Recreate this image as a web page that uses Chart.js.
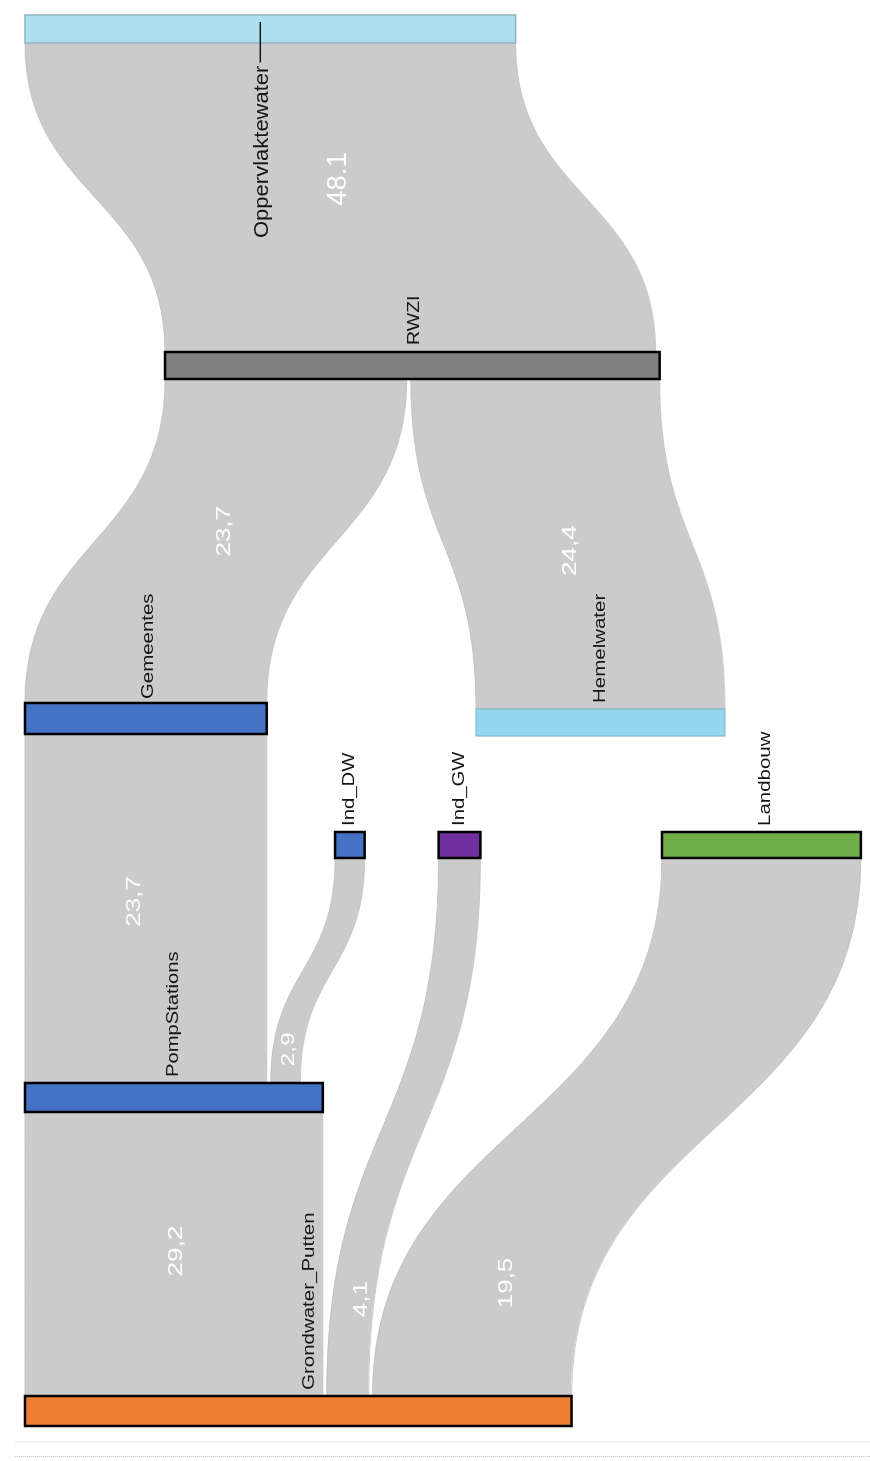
<!DOCTYPE html>
<html>
<head>
<meta charset="utf-8">
<title>Waterstromen sankey</title>
<script src="https://cdn.jsdelivr.net/npm/chart.js@4.4.1/dist/chart.umd.min.js"></script>
<style>
  html, body { margin: 0; padding: 0; background: #ffffff; }
  #wrap { position: relative; width: 870px; height: 1461px; }
</style>
</head>
<body>
<div id="wrap"><canvas id="myChart"></canvas></div>
<script>
// --- data ---
const nodeNames = ['Oppervlaktewater', 'RWZI', 'Gemeentes', 'Hemelwater', 'Ind_DW', 'Ind_GW', 'Landbouw', 'PompStations', 'Grondwater_Putten'];
const flowFrom = ['Oppervlaktewater', 'RWZI', 'RWZI', 'Gemeentes', 'Ind_DW', 'PompStations', 'Ind_GW', 'Landbouw'];
const flowTo = ['RWZI', 'Gemeentes', 'Hemelwater', 'PompStations', 'PompStations', 'Grondwater_Putten', 'Grondwater_Putten', 'Grondwater_Putten'];
const flowValues = [48.1, 23.7, 24.4, 23.7, 2.9, 29.2, 4.1, 19.5];
const flowLabels = ['48.1', '23,7', '24,4', '23,7', '2,9', '29,2', '4,1', '19,5'];

// --- layout / stijl ---
const PX_PER_UNIT = 10.2;   // breedte van 1 eenheid in pixels
const GAP_PX = 4;           // witte naad tussen stromen op een knoop
const nodeStart = [2.45, 16.18, 2.45, 46.67, 32.85, 43.0, 64.9, 2.45, 2.45]; // in eenheden
const nodeTop = [15, 352, 703, 709, 832, 832, 832, 1083, 1396];
const nodeHeight = [28, 27, 31, 27, 26, 26, 26, 29, 30];
const nodeFill = ['#addfee', '#808080', '#4472c4', '#93d6ee', '#4472c4', '#7030a0', '#70ad47', '#4472c4', '#ed7d31'];
const nodeBorder = ['#8fb4c2', '#000000', '#000000', '#86b8c9', '#000000', '#000000', '#000000', '#000000', '#000000'];
const nodeBorderWidth = [1.5, 2.5, 2.5, 1.2, 2.5, 2.5, 2.5, 2.5, 2.5];
const labelShift = [-223, 7, 4, 6, 6, 6, 6, 6, 6];   // afstand label boven de knoop
const labelNudge = [-8, 2, 2, 0, 0, 0, 4, 0, 11];    // horizontale correctie label
const labelFont = [20, 16, 17, 16, 16, 16, 16, 16, 16];
const labelStretch = [1.1, 1.22, 1.2, 1.28, 1.27, 1.27, 1.28, 1.26, 1.28];
const valueAt = [0.44, 0.47, 0.52, 0.48, 0.85, 0.49, 0.82, 0.79];
const valueNudge = [15, 0, 0, -11, 1, 3, 8, 14];
const valueFont = [27, 20, 20, 20, 18, 20, 20, 20];
const valueStretch = [1.02, 1.3, 1.3, 1.3, 1.35, 1.3, 1.3, 1.3];

// tekst 90 graden gedraaid (leest van onder naar boven)
function drawUpText(ctx, text, x, y, size, stretch, color) {
  ctx.save();
  ctx.translate(x, y);
  ctx.rotate(-Math.PI / 2);
  ctx.scale(stretch, 1);
  ctx.font = size + 'px "Liberation Sans", Arial, sans-serif';
  ctx.fillStyle = color;
  ctx.textAlign = 'left';
  ctx.textBaseline = 'middle';
  ctx.fillText(text, 0, 0);
  const w = ctx.measureText(text).width * stretch;
  ctx.restore();
  return w;
}

const sankeyPlugin = {
  id: 'sankey',
  afterDatasetsDraw(chart) {
    const ctx = chart.ctx;
    const xs = chart.scales.x;
    const ys = chart.scales.y;
    const gapU = GAP_PX / PX_PER_UNIT;
    const n = nodeNames.length;

    const from = flowFrom.map(name => nodeNames.indexOf(name));
    const to = flowTo.map(name => nodeNames.indexOf(name));

    // knoopbreedte = max(in, uit) inclusief naden
    const inSum = new Array(n).fill(0), outSum = new Array(n).fill(0);
    const inCnt = new Array(n).fill(0), outCnt = new Array(n).fill(0);
    flowValues.forEach((v, i) => {
      outSum[from[i]] += v; outCnt[from[i]]++;
      inSum[to[i]] += v; inCnt[to[i]]++;
    });
    const width = nodeNames.map((_, i) => Math.max(
      inSum[i] + gapU * Math.max(inCnt[i] - 1, 0),
      outSum[i] + gapU * Math.max(outCnt[i] - 1, 0)));

    // stromen
    const outPos = nodeStart.slice();
    const inPos = nodeStart.slice();
    const valueSpots = [];
    flowValues.forEach((v, i) => {
      const s = from[i], t = to[i];
      const sx0 = xs.getPixelForValue(outPos[s]);
      const sx1 = xs.getPixelForValue(outPos[s] + v);
      outPos[s] += v + gapU;
      const tx0 = xs.getPixelForValue(inPos[t]);
      const tx1 = xs.getPixelForValue(inPos[t] + v);
      inPos[t] += v + gapU;
      const y0 = ys.getPixelForValue(nodeTop[s] + nodeHeight[s]);
      const y1 = ys.getPixelForValue(nodeTop[t]);
      const ym = (y0 + y1) / 2;

      ctx.beginPath();
      ctx.moveTo(sx0, y0);
      ctx.bezierCurveTo(sx0, ym, tx0, ym, tx0, y1);
      ctx.lineTo(tx1, y1);
      ctx.bezierCurveTo(tx1, ym, sx1, ym, sx1, y0);
      ctx.closePath();
      ctx.fillStyle = '#cbcbcb';
      ctx.fill();
      ctx.strokeStyle = '#bfbfbf';
      ctx.lineWidth = 0.8;
      ctx.stroke();

      // positie van het getal op de curve (bisectie op y)
      const f = valueAt[i];
      let lo = 0, hi = 1;
      for (let k = 0; k < 30; k++) {
        const m = (lo + hi) / 2;
        const g = 1.5 * m - 1.5 * m * m + m * m * m;
        if (g < f) lo = m; else hi = m;
      }
      const tt = (lo + hi) / 2;
      const h = 3 * tt * tt - 2 * tt * tt * tt;
      const c0 = (sx0 + sx1) / 2, c1 = (tx0 + tx1) / 2;
      valueSpots.push({ x: c0 + (c1 - c0) * h + valueNudge[i], y: y0 + (y1 - y0) * f });
    });

    // getallen op de stromen
    valueSpots.forEach((p, i) => {
      ctx.save();
      ctx.font = valueFont[i] + 'px "Liberation Sans", Arial, sans-serif';
      const w = ctx.measureText(flowLabels[i]).width * valueStretch[i];
      ctx.restore();
      drawUpText(ctx, flowLabels[i], p.x, p.y + w / 2, valueFont[i], valueStretch[i], '#ffffff');
    });

    // knopen
    nodeNames.forEach((name, i) => {
      const x0 = xs.getPixelForValue(nodeStart[i]);
      const x1 = xs.getPixelForValue(nodeStart[i] + width[i]);
      const y0 = ys.getPixelForValue(nodeTop[i]);
      const y1 = ys.getPixelForValue(nodeTop[i] + nodeHeight[i]);
      ctx.fillStyle = nodeFill[i];
      ctx.fillRect(x0, y0, x1 - x0, y1 - y0);
      ctx.strokeStyle = nodeBorder[i];
      ctx.lineWidth = nodeBorderWidth[i];
      ctx.strokeRect(x0, y0, x1 - x0, y1 - y0);
    });

    // knooplabels
    nodeNames.forEach((name, i) => {
      const x0 = xs.getPixelForValue(nodeStart[i]);
      const x1 = xs.getPixelForValue(nodeStart[i] + width[i]);
      const cx = (x0 + x1) / 2 + labelNudge[i];
      const ly = ys.getPixelForValue(nodeTop[i] - labelShift[i]);
      const w = drawUpText(ctx, name, cx, ly, labelFont[i], labelStretch[i], '#151515');
      if (labelShift[i] < 0) {
        // label onder de knoop: verbindingsstreepje naar de balk
        ctx.beginPath();
        ctx.moveTo(cx - 2, ly - w - 3);
        ctx.lineTo(cx - 2, ys.getPixelForValue(nodeTop[i] + 7));
        ctx.strokeStyle = '#151515';
        ctx.lineWidth = 1.5;
        ctx.stroke();
      }
    });

    // scheidingslijnen onderaan
    ctx.save();
    ctx.strokeStyle = '#f0f0f0';
    ctx.lineWidth = 2;
    ctx.beginPath();
    ctx.moveTo(15, 1442); ctx.lineTo(870, 1442);
    ctx.stroke();
    ctx.strokeStyle = '#c4c4c4';
    ctx.lineWidth = 1;
    ctx.setLineDash([1, 1]);
    ctx.beginPath();
    ctx.moveTo(15, 1456.5); ctx.lineTo(870, 1456.5);
    ctx.stroke();
    ctx.restore();
  }
};

const ctx = document.getElementById('myChart').getContext('2d');
const myChart = new Chart(ctx, {
  type: 'scatter',
  data: { datasets: [{ data: [], pointRadius: 0 }] },
  options: {
    responsive: true,
    maintainAspectRatio: false,
    animation: false,
    events: [],
    layout: { padding: 0 },
    plugins: { legend: { display: false }, tooltip: { enabled: false } },
    scales: {
      x: { type: 'linear', min: 0, max: 870 / PX_PER_UNIT, display: false },
      y: { type: 'linear', min: 0, max: 1461, reverse: true, display: false }
    }
  },
  plugins: [sankeyPlugin]
});
</script>
</body>
</html>
